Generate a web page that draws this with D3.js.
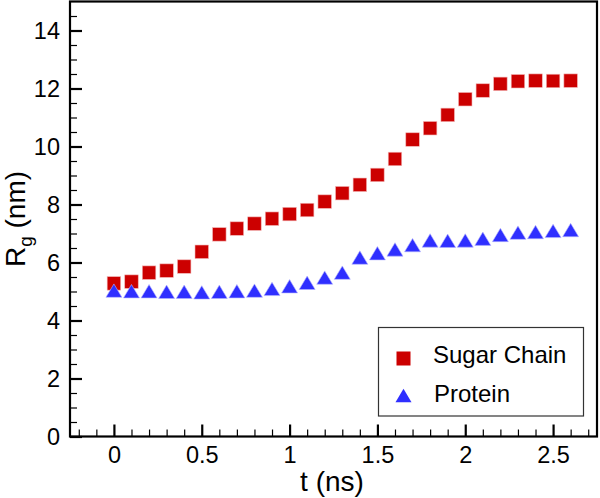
<!DOCTYPE html>
<html>
<head>
<meta charset="utf-8">
<script src="https://cdn.jsdelivr.net/npm/d3@7"></script>
<style>
  html, body { margin: 0; padding: 0; background: #fff; }
  svg { display: block; font-family: "Liberation Sans", Arial, sans-serif; }
</style>
</head>
<body>
<svg id="chart" width="600" height="498"></svg>
<script>
// ---- data ----
const times = [0, 0.1, 0.2, 0.3, 0.4, 0.5, 0.6, 0.7, 0.8, 0.9, 1.0, 1.1, 1.2, 1.3,
               1.4, 1.5, 1.6, 1.7, 1.8, 1.9, 2.0, 2.1, 2.2, 2.3, 2.4, 2.5, 2.6];
const sugarChain = [5.28, 5.34, 5.65, 5.72, 5.86, 6.37, 6.97, 7.17, 7.34, 7.51, 7.67, 7.81, 8.10, 8.39,
                    8.68, 9.02, 9.57, 10.24, 10.63, 11.09, 11.63, 11.93, 12.16, 12.25, 12.27, 12.26, 12.27];
const protein = [5.03, 5.01, 5.01, 4.99, 4.99, 4.97, 4.99, 5.01, 5.03, 5.09, 5.18, 5.30, 5.48, 5.65,
                 6.17, 6.32, 6.45, 6.60, 6.76, 6.75, 6.76, 6.82, 6.95, 7.03, 7.05, 7.09, 7.12];
const xTicks = [0, 0.5, 1, 1.5, 2, 2.5];
const xTickLabels = ["0", "0.5", "1", "1.5", "2", "2.5"];
const xMinorTicks = [-0.2, -0.1, 0.1, 0.2, 0.3, 0.4, 0.6, 0.7, 0.8, 0.9, 1.1, 1.2, 1.3, 1.4,
                     1.6, 1.7, 1.8, 1.9, 2.1, 2.2, 2.3, 2.4, 2.6, 2.7];
const yTicks = [0, 2, 4, 6, 8, 10, 12, 14];
const yMinorTicks = [0.5, 1, 1.5, 2.5, 3, 3.5, 4.5, 5, 5.5, 6.5, 7, 7.5, 8.5, 9, 9.5,
                     10.5, 11, 11.5, 12.5, 13, 13.5, 14.5];
const seriesNames = ["Sugar Chain", "Protein"];
const xTitle = "t (ns)";

// ---- layout ----
const svg = d3.select("#chart");
const mLeft = 70, mRight = 597, mTop = 1.5, mBottom = 436.5;
const x = d3.scaleLinear().domain([-0.25, 2.75]).range([mLeft, mRight]);
const y = d3.scaleLinear().domain([0, 15]).range([mBottom, mTop]);
const red = "#cc0000", blue = "#2f2fff";
const fontSize = 23.5;

// minor ticks
svg.append("g").attr("transform", `translate(0,${mBottom})`)
  .call(d3.axisBottom(x).tickValues(xMinorTicks).tickFormat("").tickSizeInner(-7).tickSizeOuter(0))
  .call(g => g.select(".domain").remove())
  .call(g => g.selectAll("line").attr("stroke", "#000").attr("stroke-width", 1.2));
svg.append("g").attr("transform", `translate(${mLeft},0)`)
  .call(d3.axisLeft(y).tickValues(yMinorTicks).tickFormat("").tickSizeInner(-7).tickSizeOuter(0))
  .call(g => g.select(".domain").remove())
  .call(g => g.selectAll("line").attr("stroke", "#000").attr("stroke-width", 1.2));

// major ticks + labels
svg.append("g").attr("transform", `translate(0,${mBottom})`)
  .call(d3.axisBottom(x).tickValues(xTicks).tickFormat((d, i) => xTickLabels[i])
        .tickSizeInner(-12).tickSizeOuter(0).tickPadding(10))
  .call(g => g.select(".domain").remove())
  .call(g => g.selectAll("line").attr("stroke", "#000").attr("stroke-width", 2.2))
  .call(g => g.selectAll("text").attr("fill", "#000").attr("font-size", fontSize)
        .attr("font-family", "Liberation Sans, Arial, sans-serif"));
svg.append("g").attr("transform", `translate(${mLeft},0)`)
  .call(d3.axisLeft(y).tickValues(yTicks).tickFormat(d3.format("d"))
        .tickSizeInner(-12).tickSizeOuter(0).tickPadding(10))
  .call(g => g.select(".domain").remove())
  .call(g => g.selectAll("line").attr("stroke", "#000").attr("stroke-width", 2.2))
  .call(g => g.selectAll("text").attr("fill", "#000").attr("font-size", fontSize)
        .attr("font-family", "Liberation Sans, Arial, sans-serif"));

// frame
svg.append("rect")
  .attr("x", mLeft).attr("y", mTop)
  .attr("width", mRight - mLeft).attr("height", mBottom - mTop)
  .attr("fill", "none").attr("stroke", "#000").attr("stroke-width", 2.2);

// markers
const sq = 13.5;
const triPath = "M0,-6.7L8,6.7L-8,6.7Z";

svg.append("g").selectAll("rect")
  .data(times.map((t, i) => [t, sugarChain[i]]))
  .join("rect")
  .attr("x", d => x(d[0]) - sq / 2).attr("y", d => y(d[1]) - sq / 2)
  .attr("width", sq).attr("height", sq)
  .attr("fill", red).attr("stroke", "#f2b5b5").attr("stroke-width", 0.6);

svg.append("g").selectAll("path")
  .data(times.map((t, i) => [t, protein[i]]))
  .join("path")
  .attr("d", triPath)
  .attr("transform", d => `translate(${x(d[0])},${y(d[1])})`)
  .attr("fill", blue).attr("stroke", "#b5b5ff").attr("stroke-width", 0.6);

// axis titles
svg.append("text")
  .attr("x", 332).attr("y", 491)
  .attr("text-anchor", "middle").attr("font-size", 28).attr("fill", "#000")
  .text(xTitle);

const yt = svg.append("text")
  .attr("transform", "translate(25,219) rotate(-90)")
  .attr("text-anchor", "middle").attr("font-size", 28).attr("fill", "#000");
yt.append("tspan").text("R");
yt.append("tspan").attr("font-size", 19).attr("dy", 7).text("g");
yt.append("tspan").attr("dy", -7).text(" (nm)");

// legend
const lg = svg.append("g");
lg.append("rect")
  .attr("x", 378.5).attr("y", 327.5).attr("width", 205).attr("height", 88.5)
  .attr("fill", "#fff").attr("stroke", "#333").attr("stroke-width", 1.2);
lg.append("rect")
  .attr("x", 403.5 - 7).attr("y", 358.5 - 7).attr("width", 14).attr("height", 14)
  .attr("fill", red);
lg.append("path").attr("d", triPath)
  .attr("transform", "translate(403.5,395.5)").attr("fill", blue);
lg.append("text").attr("x", 433).attr("y", 363).attr("font-size", 24).attr("fill", "#000")
  .text(seriesNames[0]);
lg.append("text").attr("x", 434).attr("y", 401.5).attr("font-size", 24).attr("fill", "#000")
  .text(seriesNames[1]);
</script>
</body>
</html>
